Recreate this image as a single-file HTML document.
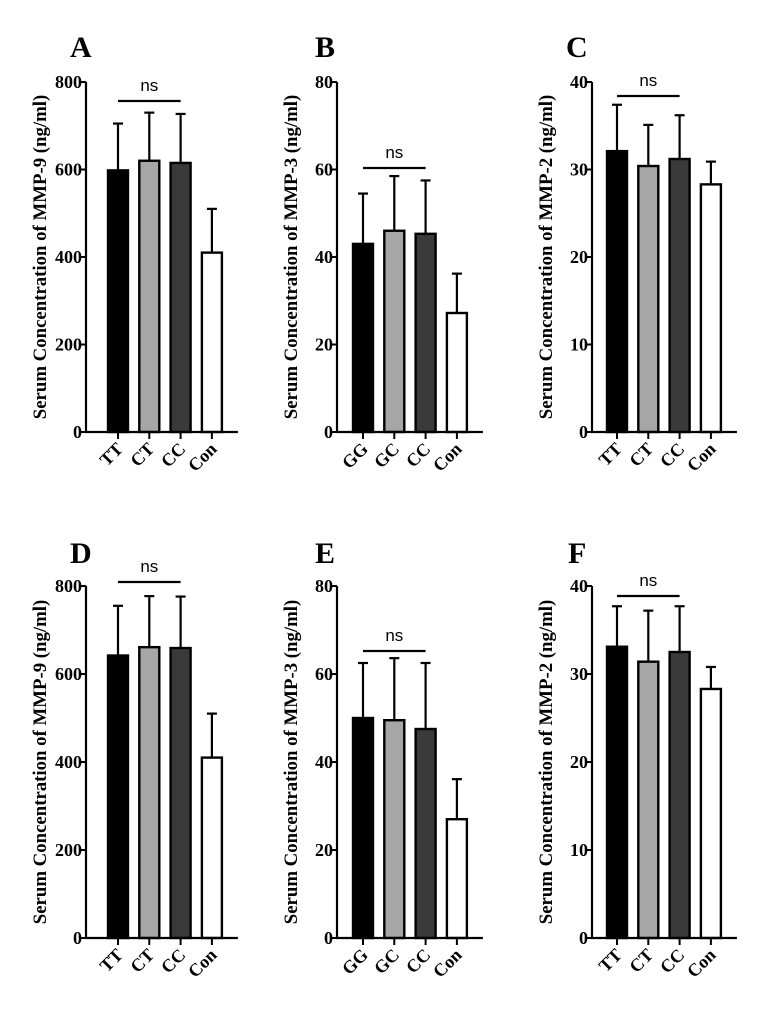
<!DOCTYPE html>
<html><head><meta charset="utf-8"><style>
body{margin:0;background:#fff;}
svg text{font-family:"Liberation Serif",serif;font-weight:bold;}
</style></head><body>
<svg id="fig" width="762" height="1013" xmlns="http://www.w3.org/2000/svg"></svg>
<script>
const panelLetters = ["A","B","C","D","E","F"];
const yTitles = ["Serum Concentration of MMP-9 (ng/ml)","Serum Concentration of MMP-3 (ng/ml)","Serum Concentration of MMP-2 (ng/ml)","Serum Concentration of MMP-9 (ng/ml)","Serum Concentration of MMP-3 (ng/ml)","Serum Concentration of MMP-2 (ng/ml)"];
const categoriesA = ["TT","CT","CC","Con"];
const categoriesB = ["GG","GC","CC","Con"];
const yMaxes = [800,80,40,800,80,40];
const yTickLabels = [[0,200,400,600,800],[0,20,40,60,80],[0,10,20,30,40],[0,200,400,600,800],[0,20,40,60,80],[0,10,20,30,40]];
const meansA = [598,620,615,410];
const errTopA = [705,730,727,510];
const meansB = [43,46,45.3,27.2];
const errTopB = [54.5,58.5,57.5,36.2];
const meansC = [32.1,30.4,31.2,28.3];
const errTopC = [37.4,35.1,36.2,30.9];
const meansD = [642,661,659,410];
const errTopD = [755,777,776,510];
const meansE = [50,49.5,47.5,27];
const errTopE = [62.5,63.6,62.5,36.1];
const meansF = [33.1,31.4,32.5,28.3];
const errTopF = [37.7,37.2,37.7,30.8];

const NS="http://www.w3.org/2000/svg";
const svg=document.getElementById('fig');
function mk(tag,attrs,parent){const e=document.createElementNS(NS,tag);for(const k in attrs)e.setAttribute(k,attrs[k]);(parent||svg).appendChild(e);return e;}
const fills=["#000","#a6a6a6","#3a3a3a","#fff"];
const panels=[
 {ax:86,top:82,bot:432,off:32,cats:categoriesA,m:meansA,e:errTopA,nsY:101,lx:70,ly:57},
 {ax:337,top:82,bot:432,off:26,cats:categoriesB,m:meansB,e:errTopB,nsY:168,lx:315,ly:57},
 {ax:592,top:82,bot:432,off:25,cats:categoriesA,m:meansC,e:errTopC,nsY:96,lx:566,ly:57},
 {ax:86,top:586,bot:938,off:32,cats:categoriesA,m:meansD,e:errTopD,nsY:582,lx:70,ly:563},
 {ax:337,top:586,bot:938,off:26,cats:categoriesB,m:meansE,e:errTopE,nsY:651,lx:315,ly:563},
 {ax:592,top:586,bot:938,off:25,cats:categoriesA,m:meansF,e:errTopF,nsY:596,lx:568,ly:563}
];
panels.forEach((p,i)=>{
 const g=mk('g',{});
 
 
 const ymax=yMaxes[i];
 const y=v=>p.bot-(v/ymax)*(p.bot-p.top);
 const cx=k=>p.ax+p.off+k*31.3;
 const L=mk('text',{x:p.lx,y:p.ly,'font-size':30},g);L.textContent=panelLetters[i];
 
 
 const ty=(p.top+p.bot)/2, tx=p.ax-40;
 const T=mk('text',{x:tx,y:ty,'font-size':18.8,'text-anchor':'middle',transform:`rotate(-90 ${tx} ${ty})`},g);T.textContent=yTitles[i];
 
 
 p.m.forEach((v,k)=>{
  const c=cx(k);
  const el=mk('line',{x1:c,x2:c,y1:y(v),y2:y(p.e[k]),stroke:'#000','stroke-width':2.2},g);
  
  
  const cap=mk('line',{x1:c-5,x2:c+5,y1:y(p.e[k]),y2:y(p.e[k]),stroke:'#000','stroke-width':2.2},g);
  
  
  const r=mk('rect',{x:c-10,y:y(v),width:20,height:p.bot-y(v),fill:fills[k],stroke:'#000','stroke-width':2.4},g);
  
  
  const tk=mk('line',{x1:c,x2:c,y1:p.bot,y2:p.bot+7,stroke:'#000','stroke-width':2},g);
  
  
  const lx=c+6, ly=p.bot+18;
  const t=mk('text',{x:lx,y:ly,'font-size':18,'text-anchor':'end',transform:`rotate(-45 ${lx} ${ly})`},g);t.textContent=p.cats[k];
  
  
 });
 const ya=mk('line',{x1:p.ax,x2:p.ax,y1:p.top,y2:p.bot+1,stroke:'#000','stroke-width':2.2},g);
 
 
 const xa=mk('line',{x1:p.ax-1,x2:cx(3)+26,y1:p.bot,y2:p.bot,stroke:'#000','stroke-width':2.2},g);
 
 
 yTickLabels[i].forEach(v=>{
  const tk=mk('line',{x1:p.ax-6,x2:p.ax,y1:y(v),y2:y(v),stroke:'#000','stroke-width':2},g);
  
  
  const t=mk('text',{x:p.ax-4,y:y(v)+6,'font-size':18,'text-anchor':'end'},g);t.textContent=v;
  
  
 });
 const sl=mk('line',{x1:cx(0),x2:cx(2),y1:p.nsY,y2:p.nsY,stroke:'#000','stroke-width':2.2},g);
 
 
 const ns=mk('text',{x:cx(1),y:p.nsY-10,'font-size':17,'text-anchor':'middle',style:'font-family:"Liberation Sans",sans-serif;font-weight:normal'},g);ns.textContent='ns';
 
 
});
</script>
</body></html>
